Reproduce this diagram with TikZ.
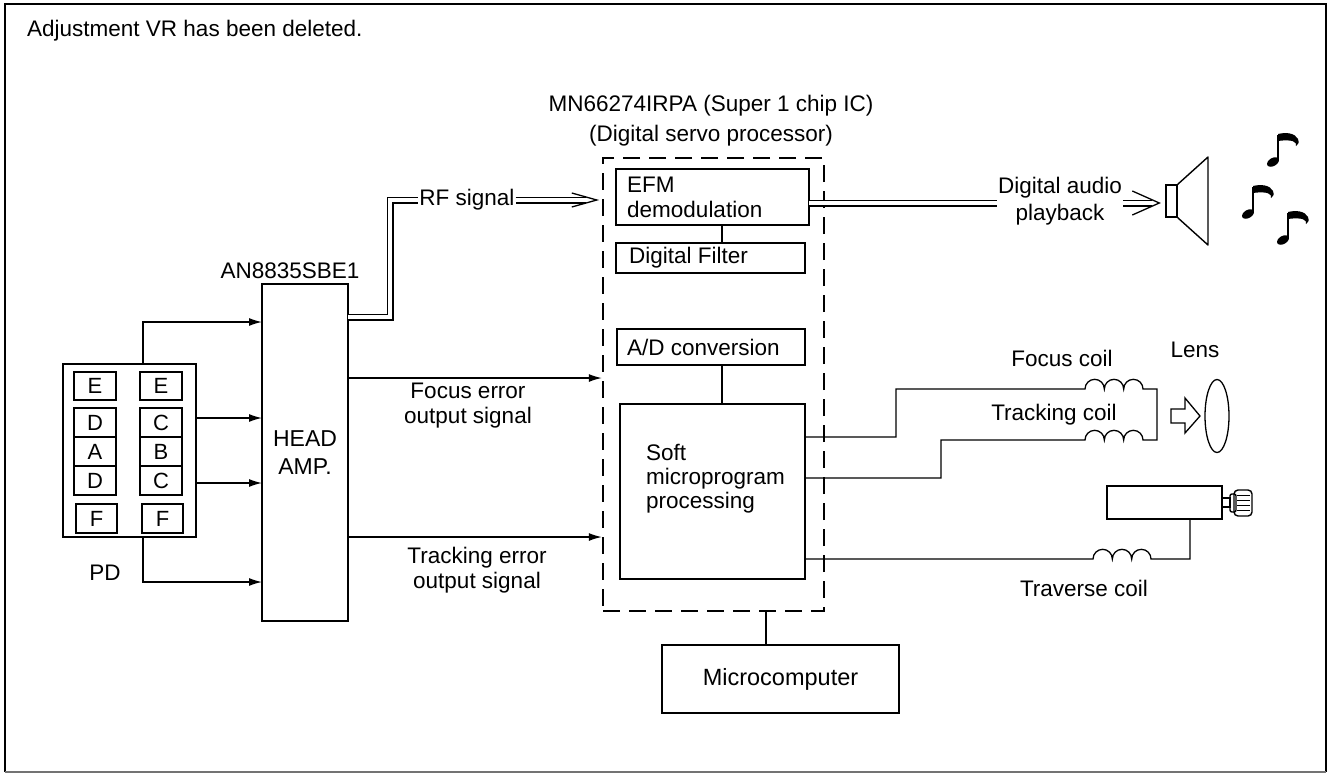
\documentclass[tikz,border=0pt]{standalone}
\usepackage{fontspec}
\setmainfont{Liberation Sans}
\usetikzlibrary{arrows.meta,calc,shapes.geometric}

\begin{document}
\begin{tikzpicture}[x=1pt,y=-1pt,
  txt/.style={font=\fontsize{22.5}{25}\selectfont, inner sep=1pt},
  blk/.style={draw, line width=2pt, inner sep=0pt, outer sep=0pt},
  cell/.style={draw, line width=1.4pt, minimum width=42pt, minimum height=29pt,
               inner sep=0pt, font=\fontsize{22}{25}\selectfont},
  wire/.style={line width=1.3pt},
  arr/.style={wire, -{Latex[length=13pt,width=8pt]}},
  dbl/.style={double, double distance=4.6pt, line width=1.2pt},
  icframe/.style={draw, line width=2.4pt, dash pattern=on 17pt off 9pt, inner sep=0pt},
]
\useasboundingbox (0,0) rectangle (1329,774);

% outer frame
\draw[line width=2pt] (5,772) -- (5,4) -- (1326,4) -- (1326,772);
\draw[line width=1.5pt, black!55] (5,772) -- (1326,772);

\node[txt, anchor=west] (note) at (26,31) {Adjustment VR has been deleted.};

% photo detector
\node[blk, minimum width=133pt, minimum height=173pt] (pd) at (129.5,450.5) {};
\node[cell, minimum height=28pt] (e1) at (95,386) {E};
\node[cell, minimum height=28pt] (e2) at (161,386) {E};
\node[cell] (d1) at (95,422.5) {D};
\node[cell] (a1) at (95,451.5) {A};
\node[cell] (d2) at (95,480.5) {D};
\node[cell] (c1) at (161,422.5) {C};
\node[cell] (b1) at (161,451.5) {B};
\node[cell] (c2) at (161,480.5) {C};
\node[cell, minimum width=41pt] (f1) at (96.5,518.5) {F};
\node[cell, minimum width=41pt] (f2) at (162.5,518.5) {F};
\node[txt] (pdlabel) at (105,573) {PD};

% head amplifier
\node[blk, line width=2.4pt, minimum width=86pt, minimum height=337pt,
      align=center, font=\fontsize{23}{28}\selectfont] (amp) at (305,452.5) {HEAD\\AMP.};
\node[txt] (amplabel) at (290,271) {AN8835SBE1};

\draw[arr] ($(pd.north west)+(80,0)$) |- (amp.west |- 0,322);
\draw[arr] (pd.east |- 0,418) -- (amp.west |- 0,418);
\draw[arr] (pd.east |- 0,483) -- (amp.west |- 0,483);
\draw[arr] ($(pd.south west)+(80,0)$) |- (amp.west |- 0,582);

% servo processor
\node[icframe, minimum width=221pt, minimum height=453pt] (ic) at (713.5,384.5) {};
\node[txt, align=center, font=\fontsize{22.5}{30}\selectfont] (ictitle) at (711,121)
  {MN66274IRPA (Super 1 chip IC)\\(Digital servo processor)};

\node[blk, minimum width=193pt, minimum height=56pt] (efm) at (712.5,197) {};
\node[txt, align=left, anchor=west] (efmtxt) at (626,197) {EFM\\demodulation};
\node[blk, minimum width=189pt, minimum height=30pt] (filt) at (710.5,258) {};
\node[txt, anchor=west] (filttxt) at (628,258) {Digital Filter};
\node[blk, minimum width=188pt, minimum height=36pt] (ad) at (711,347) {};
\node[txt, anchor=west] (adtxt) at (626,347) {A/D conversion};
\node[blk, minimum width=185pt, minimum height=175pt] (soft) at (712.5,491.5) {};
\node[txt, align=left, anchor=west, font=\fontsize{22.5}{24}\selectfont] (softtxt) at (645,479)
  {Soft\\microprogram\\processing};

\draw[wire] (efm.south -| 722,0) -- (filt.north -| 722,0);
\draw[wire] (ad.south -| 722,0) -- (soft.north -| 722,0);

\node[blk, minimum width=237pt, minimum height=68pt, txt, font=\fontsize{23.5}{25}\selectfont] (micro) at (780.5,679) {Microcomputer};
\draw[wire] (ic.south -| 766,0) -- (micro.north -| 766,0);

% error signals
\draw[arr] (amp.east |- 0,378) -- (ic.west |- 0,378);
\draw[arr] (amp.east |- 0,537) -- (ic.west |- 0,537);
\node[txt, align=center] (fe) at (468,406) {Focus error\\output signal};
\node[txt, align=center] (te) at (477,570) {Tracking error\\output signal};

% RF signal
\node[txt] (rf) at (467,200) {RF signal};
\coordinate (rftip) at ($(ic.west |- rf)+(-5,0)$);
\draw[dbl] (amp.east |- 0,317) -| (390,200) -- (rf.west);
\draw[dbl] (rf.east) -- ($(rftip)+(-11,0)$);
\draw[wire] ($(rftip)+(-25,-7)$) -- (rftip) -- ($(rftip)+(-25,7)$);

% audio output
\node[txt, align=center, font=\fontsize{22.5}{27}\selectfont] (audio) at (1060,201.5) {Digital audio\\playback};
\node[draw, line width=1.4pt, minimum width=11pt, minimum height=32pt, inner sep=0pt] (spk) at (1171.5,201) {};
\coordinate (audtip) at ($(spk.west)+(-6,2)$);
\draw[dbl] (efm.east |- 0,203) -- (audio.west |- 0,203);
\draw[dbl] (audio.east |- 0,203) -- ($(audtip)+(-7,0)$);
\draw[wire] ($(audtip)+(-27,-12)$) -- (audtip) -- ($(audtip)+(-27,12)$);
\draw[line width=1.4pt, line join=round] (spk.north east) -- (1208,157) -- (1208,245) -- (spk.south east);

% music notes
\foreach \sx/\st in {1278/135, 1253/187, 1288/213}{
  \fill[rotate around={30:(\sx-5,\st+27)}] (\sx-5,\st+27) ellipse[x radius=6.5pt, y radius=4pt];
  \draw[line width=1.8pt] (\sx,\st) -- (\sx,\st+26);
  \fill (\sx,\st-1) .. controls (\sx+8,\st-3) and (\sx+17,\st-2) .. (\sx+20,\st+4)
        .. controls (\sx+21,\st+8) .. (\sx+18,\st+11)
        .. controls (\sx+19,\st+7) and (\sx+15,\st+4) .. (\sx,\st+6) -- cycle;
}

% focus and tracking coils
\node[txt] (fcl) at (1062,358) {Focus coil};
\node[txt] (tcl) at (1054,415) {Tracking coil};
\node[txt] (lenslabel) at (1195,350) {Lens};
\draw[wire, line join=miter] (soft.east |- 0,437) -| (896,389) -- (1085,389)
  arc[start angle=180, end angle=0, radius=9.67pt]
  arc[start angle=180, end angle=0, radius=9.67pt]
  arc[start angle=180, end angle=0, radius=9.67pt]
  -- (1157,389) |- (1143,440)
  arc[start angle=0, end angle=180, radius=9.67pt]
  arc[start angle=0, end angle=180, radius=9.67pt]
  arc[start angle=0, end angle=180, radius=9.67pt]
  -- (941,440) |- (soft.east |- 0,478);

\node[draw, ellipse, line width=1.3pt, minimum width=24pt, minimum height=73pt, inner sep=0pt] (lens) at (1217,416) {};
\draw[wire, line join=miter] (1171,409) -- (1185,409) -- (1185,398) -- (1200,416)
  -- (1185,433) -- (1185,423) -- (1171,423) -- cycle;

% traverse coil and spindle
\node[draw, line width=1.4pt, minimum width=115pt, minimum height=33pt, inner sep=0pt] (motor) at (1164.5,502.5) {};
\node[txt] (trl) at (1084,588) {Traverse coil};
\draw[wire] (soft.east |- 0,559) -- (1093,559)
  arc[start angle=180, end angle=0, radius=9.67pt]
  arc[start angle=180, end angle=0, radius=9.67pt]
  arc[start angle=180, end angle=0, radius=9.67pt]
  -- (1190,559) -- (motor.south -| 1190,0);
\draw[line width=1.2pt] (motor.east |- 0,498) rectangle (1230,507);
\draw[line width=1.4pt, rounded corners=2pt] (1230,494) rectangle (1236,512);
\draw[line width=1.4pt, rounded corners=4pt] (1234,490) rectangle (1252,516);
\foreach \yy in {495,500,505,510}{
  \draw[line width=1pt] (1237,\yy) -- (1250,\yy);
}
\end{tikzpicture}
\end{document}
